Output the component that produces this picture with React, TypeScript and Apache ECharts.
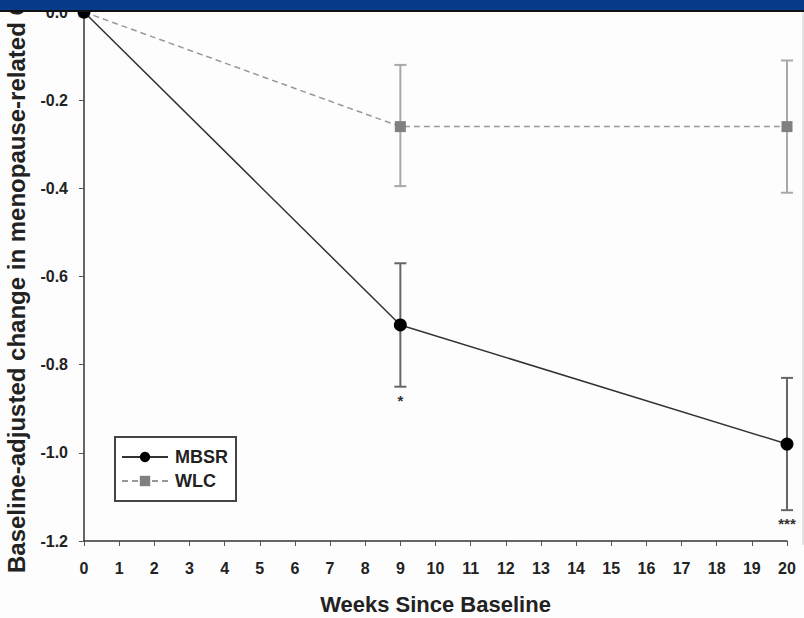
import React, { useEffect, useRef } from "react";
import * as echarts from "echarts";

// Weeks since baseline at which QOL was assessed
const weeks = [0, 9, 20];

// MBSR group: mean change and error-bar bounds
const mbsrMean = [0, -0.71, -0.98];
const mbsrUpper = [0, -0.57, -0.83];
const mbsrLower = [0, -0.85, -1.13];
const mbsrSig = ["", "*", "***"];

// Wait-list control group
const wlcMean = [0, -0.26, -0.26];
const wlcUpper = [0, -0.12, -0.11];
const wlcLower = [0, -0.395, -0.41];

const FONT = "Liberation Sans, Arial, sans-serif";

function errorBarSeries(name: string, upper: number[], lower: number[], color: string, sig: string[] | null) {
  const data = weeks.map((w, i) => [w, upper[i], lower[i], i]);
  return {
    type: "custom",
    name: name + " error",
    silent: true,
    z: 1,
    data,
    renderItem: (params: any, api: any) => {
      const x = api.value(0);
      const hi = api.value(1);
      const lo = api.value(2);
      const idx = api.value(3);
      if (hi === lo) return { type: "group", children: [] };
      const pHi = api.coord([x, hi]);
      const pLo = api.coord([x, lo]);
      const cap = 6;
      const style = { stroke: color, lineWidth: 2 };
      const children: any[] = [
        { type: "line", shape: { x1: pHi[0], y1: pHi[1], x2: pLo[0], y2: pLo[1] }, style },
        { type: "line", shape: { x1: pHi[0] - cap, y1: pHi[1], x2: pHi[0] + cap, y2: pHi[1] }, style },
        { type: "line", shape: { x1: pLo[0] - cap, y1: pLo[1], x2: pLo[0] + cap, y2: pLo[1] }, style },
      ];
      if (sig && sig[idx]) {
        children.push({
          type: "text",
          x: pLo[0],
          y: pLo[1] + 6,
          style: {
            text: sig[idx],
            fill: "#333",
            font: "bold 15px " + FONT,
            textAlign: "center",
            textVerticalAlign: "top",
          },
        });
      }
      return { type: "group", children };
    },
  };
}

export default function App() {
  const ref = useRef<HTMLDivElement>(null);

  useEffect(() => {
    if (!ref.current) return;
    const chart = echarts.init(ref.current, null, { renderer: "svg" });
    chart.setOption({
      animation: false,
      backgroundColor: "#fdfdfd",
      grid: { left: 84, right: 17, top: 12, bottom: 77, outerBoundsMode: "none", containLabel: false },
      xAxis: {
        type: "value",
        min: 0,
        max: 20,
        interval: 1,
        name: "Weeks Since Baseline",
        nameLocation: "middle",
        nameGap: 52,
        nameTextStyle: { fontFamily: FONT, fontWeight: "bold", fontSize: 22, color: "#222" },
        axisLine: { onZero: false, lineStyle: { color: "#333", width: 1.5 } },
        axisTick: { length: 5, lineStyle: { color: "#555" } },
        axisLabel: { fontFamily: FONT, fontWeight: "bold", fontSize: 16, color: "#222", margin: 19 },
        splitLine: { show: false },
      },
      yAxis: {
        type: "value",
        min: -1.2,
        max: 0,
        interval: 0.2,
        axisLine: { show: true, onZero: false, lineStyle: { color: "#333", width: 1.5 } },
        axisTick: { show: true, length: 5, lineStyle: { color: "#555" } },
        axisLabel: {
          fontFamily: FONT,
          fontWeight: "bold",
          fontSize: 16,
          color: "#222",
          margin: 16,
          formatter: (v: number) => v.toFixed(1),
        },
        splitLine: { show: false },
      },
      legend: {
        orient: "vertical",
        left: 115,
        top: 437,
        backgroundColor: "#fff",
        borderColor: "#444",
        borderWidth: 2,
        borderRadius: 0,
        padding: [11, 8, 11, 6],
        itemGap: 6,
        itemWidth: 46,
        itemHeight: 13,
        textStyle: { fontFamily: FONT, fontWeight: "bold", fontSize: 18, color: "#222", padding: [0, 0, 0, 2] },
        data: ["MBSR", "WLC"],
      },
      series: [
        errorBarSeries("WLC", wlcUpper, wlcLower, "#a8a8a8", null),
        errorBarSeries("MBSR", mbsrUpper, mbsrLower, "#666", mbsrSig),
        {
          name: "WLC",
          type: "line",
          z: 3,
          data: weeks.map((w, i) => [w, wlcMean[i]]),
          symbol: "rect",
          symbolSize: 11,
          itemStyle: { color: "#808080" },
          lineStyle: { color: "#999", width: 1.5, type: [6, 4] },
        },
        {
          name: "MBSR",
          type: "line",
          z: 4,
          data: weeks.map((w, i) => [w, mbsrMean[i]]),
          symbol: "circle",
          symbolSize: 13,
          itemStyle: { color: "#000" },
          lineStyle: { color: "#333", width: 1.5 },
        },
      ],
      graphic: [
        {
          type: "text",
          x: 16,
          y: 573,
          rotation: Math.PI / 2,
          z: 10,
          style: {
            text: "Baseline-adjusted change in menopause-related QOL",
            font: "bold 24px " + FONT,
            fill: "#222",
            textAlign: "left",
            textVerticalAlign: "middle",
          },
        },
        {
          type: "rect",
          z: 100,
          shape: { x: 0, y: 0, width: 804, height: 10 },
          style: { fill: "#083c8a" },
        },
        {
          type: "rect",
          z: 100,
          shape: { x: 0, y: 10, width: 804, height: 2 },
          style: { fill: "#111" },
        },
        {
          type: "line",
          z: 5,
          shape: { x1: 803, y1: 12, x2: 803, y2: 545 },
          style: { stroke: "#ccc", lineWidth: 1 },
        },
      ],
    });
    return () => chart.dispose();
  }, []);

  return <div ref={ref} style={{ width: 804, height: 618, position: "absolute", left: 0, top: 0 }} />;
}
